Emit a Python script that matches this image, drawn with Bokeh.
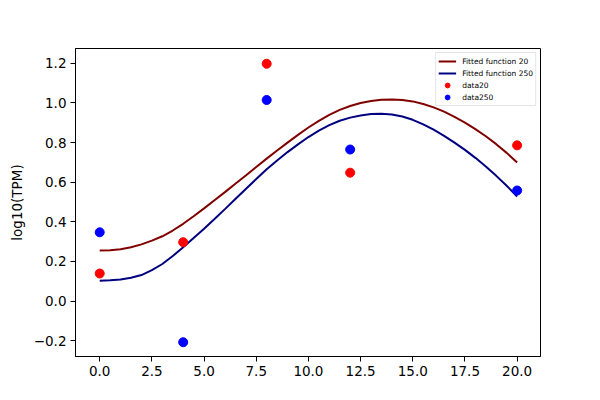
from bokeh.plotting import figure
from bokeh.models import Range1d, FixedTicker
from bokeh.embed import file_html
from bokeh.resources import INLINE

# fitted curves, every half unit of t
t_fit = [i / 2 for i in range(41)]
fit20 = [0.255, 0.257, 0.262, 0.272, 0.286, 0.305, 0.327, 0.356, 0.390, 0.428,
         0.468, 0.509, 0.550, 0.592, 0.634, 0.677, 0.719, 0.760, 0.800, 0.839,
         0.876, 0.910, 0.940, 0.965, 0.985, 1.000, 1.010, 1.016, 1.018, 1.015,
         1.008, 0.995, 0.978, 0.956, 0.930, 0.901, 0.868, 0.832, 0.792, 0.748, 0.700]
fit250 = [0.103, 0.105, 0.109, 0.118, 0.131, 0.156, 0.187, 0.227, 0.272, 0.318,
          0.365, 0.414, 0.464, 0.515, 0.566, 0.616, 0.665, 0.710, 0.752, 0.791,
          0.828, 0.860, 0.888, 0.910, 0.926, 0.937, 0.944, 0.945, 0.942, 0.932,
          0.915, 0.892, 0.865, 0.834, 0.800, 0.763, 0.723, 0.679, 0.632, 0.582, 0.528]

# measured points
t_data = [0, 4, 8, 12, 20]
data20 = [0.139, 0.297, 1.198, 0.648, 0.786]
data250 = [0.347, -0.208, 1.015, 0.765, 0.558]

x_ticks = [0, 2.5, 5, 7.5, 10, 12.5, 15, 17.5, 20]
x_labels = ["0.0", "2.5", "5.0", "7.5", "10.0", "12.5", "15.0", "17.5", "20.0"]
y_ticks = [-0.2, 0.0, 0.2, 0.4, 0.6, 0.8, 1.0, 1.2]
y_labels = ["\u22120.2", "0.0", "0.2", "0.4", "0.6", "0.8", "1.0", "1.2"]

FONT = "DejaVu Sans"

p = figure(width=584, height=384, output_backend="svg", toolbar_location=None,
           x_range=Range1d(-1.16, 21.12), y_range=Range1d(-0.28, 1.275),
           min_border_left=75, min_border_right=44, min_border_top=48, min_border_bottom=28)
p.background_fill_color = "white"
p.border_fill_color = "white"
p.outline_line_color = "black"
p.outline_line_width = 1
p.xgrid.visible = False
p.ygrid.visible = False

p.line(t_fit, fit20, line_color="#800000", line_width=2, legend_label="Fitted function 20")
p.line(t_fit, fit250, line_color="#000080", line_width=2, legend_label="Fitted function 250")
p.scatter(t_data, data20, size=9, fill_color="red", line_color="red", legend_label="data20")
p.scatter(t_data, data250, size=9, fill_color="blue", line_color="blue", legend_label="data250")

p.xaxis.ticker = FixedTicker(ticks=x_ticks)
p.xaxis.major_label_overrides = dict(zip(x_ticks, x_labels))
p.yaxis.ticker = FixedTicker(ticks=y_ticks)
p.yaxis.major_label_overrides = dict(zip(y_ticks, y_labels))
p.yaxis.axis_label = "log10(TPM)"

for ax in (p.xaxis, p.yaxis):
    ax.minor_tick_line_color = None
    ax.major_tick_in = 0
    ax.major_tick_out = 5
    ax.major_tick_line_color = "black"
    ax.axis_line_color = "black"
    ax.major_label_text_font = FONT
    ax.major_label_text_font_size = "13.5px"
    ax.major_label_text_color = "black"
    ax.major_label_standoff = 4
    ax.axis_label_text_font = FONT
    ax.axis_label_text_font_size = "13.5px"
    ax.axis_label_text_font_style = "normal"
    ax.axis_label_text_color = "black"
p.yaxis.axis_label_standoff = 6

p.legend.location = "top_right"
p.legend.margin = 4
p.legend.padding = 2
p.legend.spacing = 0
p.legend.glyph_width = 18
p.legend.glyph_height = 12
p.legend.label_height = 12
p.legend.label_standoff = 6
p.legend.label_text_font = FONT
p.legend.label_text_font_size = "7.5px"
p.legend.label_text_color = "black"
p.legend.border_line_color = "#cccccc"
p.legend.background_fill_alpha = 0.8

open("out.html", "w").write(file_html(p, INLINE))
